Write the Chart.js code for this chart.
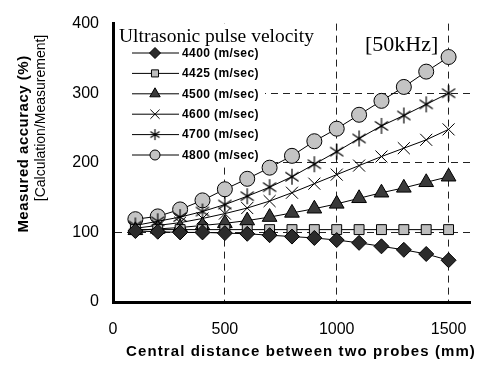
<!DOCTYPE html>
<html><head><meta charset="utf-8">
<script src="https://cdn.jsdelivr.net/npm/chart.js@4/dist/chart.umd.min.js"></script>
<style>html,body{margin:0;padding:0;background:#fff;}#wrap{width:485px;height:373px;}</style>
</head><body><div id="wrap"><canvas id="c" width="485" height="373"></canvas></div>
<script>
const distances = [100,200,300,400,500,600,700,800,900,1000,1100,1200,1300,1400,1500];
const v4400 = [102,101,100,100,99,98,96,94,92,89,85,80,75,69,60];
const v4425 = [104,104,104,104,104,104,104,104,104,104,104,104,104,104,104];
const v4500 = [103,105,107,110,113,117,122,128,134,141,149,157,164,172,180];
const v4600 = [106,110,114,120,127,135,145,157,170,183,196,209,221,233,248];
const v4700 = [110,116,122,130,140,152,165,180,198,216,235,253,268,284,300];
const v4800 = [119,123,133,146,162,177,193,210,231,249,269,289,309,331,352];
const seriesLabels = ['4400 (m/sec)','4425 (m/sec)','4500 (m/sec)','4600 (m/sec)','4700 (m/sec)','4800 (m/sec)'];
const xTicks = [0,500,1000,1500];
const yTicks = [0,100,200,300,400];
const legendTitle = 'Ultrasonic pulse velocity';
const freqLabel = '[50kHz]';
const xTitle = 'Central distance between two probes (mm)';
const yTitle = ['Measured accuracy (%)','[Calculation/Measurement]'];

function starImg(size){
  const c=document.createElement('canvas');c.width=size;c.height=size;
  const g=c.getContext('2d');const h=size/2;const r=h-1;
  g.strokeStyle='#000';g.lineWidth=1.2;g.beginPath();
  g.moveTo(h,h-r);g.lineTo(h,h+r);
  const a=0.6;
  g.moveTo(h-r*Math.cos(a),h-r*Math.sin(a));g.lineTo(h+r*Math.cos(a),h+r*Math.sin(a));
  g.moveTo(h-r*Math.cos(a),h+r*Math.sin(a));g.lineTo(h+r*Math.cos(a),h-r*Math.sin(a));
  g.stroke();return c;
}
const starBig=starImg(18), starSmall=starImg(13);

const styles = [
  {pointStyle:'rectRot', bg:'#2b2b2b', r:7.5, lr:5.5},
  {pointStyle:'rect', bg:'#bdbdbd', r:7, lr:5},
  {pointStyle:'triangle', bg:'#3a3a3a', r:8.5, lr:6},
  {pointStyle:'crossRot', bg:'#000', r:8.5, lr:6.5},
  {pointStyle:starBig, small:starSmall, bg:'#000', r:9, lr:6.5},
  {pointStyle:'circle', bg:'#c4c4c4', r:7.5, lr:5}
];
const values=[v4400,v4425,v4500,v4600,v4700,v4800];
const datasets = values.map((v,i)=>({
  label: seriesLabels[i],
  data: distances.map((d,j)=>({x:d,y:v[j]})),
  borderColor:'#000', borderWidth:1,
  pointStyle: styles[i].pointStyle,
  pointBackgroundColor: styles[i].bg,
  pointBorderColor:'#000', pointBorderWidth:1,
  pointRadius: styles[i].r, pointHoverRadius: styles[i].r,
  showLine:true, fill:false, tension:0
}));

const overlay = {
  id:'overlay',
  beforeDatasetsDraw(chart){
    const ctx=chart.ctx, a=chart.chartArea;
    ctx.save();
    ctx.fillStyle='#fff';
    ctx.fillRect(a.left+2, a.top, 265-(a.left+2), 165-a.top);
    ctx.fillStyle='#000';
    ctx.font='19.5px "Liberation Serif"';
    ctx.textBaseline='alphabetic';ctx.textAlign='left';
    ctx.fillText(legendTitle,119,42);
    ctx.font='bold 12px "Liberation Sans"';
    try{ctx.letterSpacing='0.4px';}catch(e){}
    ctx.textBaseline='middle';
    for(let i=0;i<6;i++){
      const y=53+i*20.4;
      ctx.strokeStyle='#000';ctx.lineWidth=1;
      ctx.beginPath();ctx.moveTo(132,y);ctx.lineTo(179,y);ctx.stroke();
      const s=styles[i];
      ctx.fillStyle=s.bg;ctx.strokeStyle='#000';
      Chart.helpers.drawPoint(ctx,{pointStyle:s.small||s.pointStyle,radius:s.lr,borderWidth:1},155,y);
      ctx.fillStyle='#000';
      ctx.fillText(seriesLabels[i],182,y+0.5);
    }
    try{ctx.letterSpacing='0px';}catch(e){}
    ctx.font='22px "Liberation Serif"';
    ctx.textBaseline='alphabetic';
    ctx.fillText(freqLabel,365,51);
    ctx.restore();
  },
  afterDraw(chart){
    const ctx=chart.ctx;
    ctx.save();ctx.fillStyle='#000';
    ctx.font='bold 15px "Liberation Sans"';
    try{ctx.letterSpacing='1.1px';}catch(e){}
    ctx.textAlign='center';ctx.textBaseline='middle';
    ctx.fillText(xTitle,301,352);
    try{ctx.letterSpacing='0.5px';}catch(e){}
    ctx.translate(24,144);ctx.rotate(-Math.PI/2);
    ctx.fillText(yTitle[0],0,0);
    ctx.restore();
    ctx.save();ctx.fillStyle='#000';
    ctx.font='14px "Liberation Sans"';
    ctx.textAlign='center';ctx.textBaseline='middle';
    ctx.translate(41,118);ctx.rotate(-Math.PI/2);
    ctx.fillText(yTitle[1],0,0);
    ctx.restore();
  }
};

const gridColor = (edge)=>(c)=> (c.tick && edge.includes(c.tick.value)) ? 'rgba(0,0,0,0)' : '#222';
const fmt = (v)=>String(v);

new Chart(document.getElementById('c'),{
  type:'scatter',
  data:{datasets},
  plugins:[overlay],
  options:{
    responsive:false, animation:false, devicePixelRatio:1,
    layout:{padding:{top:14,right:0,left:0,bottom:0}},
    plugins:{legend:{display:false},tooltip:{enabled:false}},
    scales:{
      x:{type:'linear',min:0,max:1600,
        afterBuildTicks(s){s.ticks=xTicks.map(v=>({value:v}));},
        afterFit(s){s.height=71;},
        ticks:{color:'#000',font:{family:'"Liberation Sans"',size:16},padding:18,maxRotation:0,callback:fmt},
        grid:{color:gridColor([0]),lineWidth:1,drawTicks:false},
        border:{display:true,color:'#000',width:3,dash:[7,5]}
      },
      y:{type:'linear',min:0,max:400,
        afterBuildTicks(s){s.ticks=yTicks.map(v=>({value:v}));},
        afterFit(s){s.width=113;},
        ticks:{color:'#000',font:{family:'"Liberation Sans"',size:16},padding:14,callback:fmt},
        grid:{color:gridColor([0,400]),lineWidth:1,drawTicks:false},
        border:{display:true,color:'#000',width:3,dash:[7,5]}
      }
    }
  }
});
</script></body></html>
